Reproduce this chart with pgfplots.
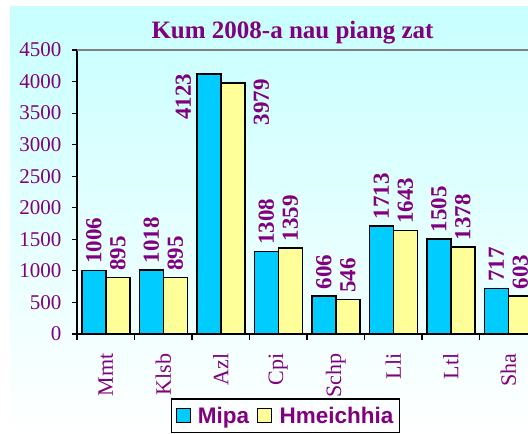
\documentclass[border=0pt]{standalone}
\usepackage{fontspec}
\setmainfont{Liberation Serif}
\newfontfamily\legendfont{Liberation Sans}
\usepackage{pgfplots}
\pgfplotsset{compat=1.18}
\definecolor{ttl}{HTML}{800080}
\definecolor{cbar}{HTML}{00CCFF}
\definecolor{ylbar}{HTML}{FFFF99}
\definecolor{bgtop}{HTML}{C8FFFF}
\begin{document}
\begin{tikzpicture}[x=1pt,y=1pt]
\path[use as bounding box] (0,0) rectangle (528,434);
\clip (0,0) rectangle (528,434);
\shade[top color=bgtop, bottom color=white] (10,0) rectangle (528,427);
\node[anchor=base, text=ttl, font=\bfseries\fontsize{25}{25}\selectfont] at (292.5,395) {Kum 2008-a nau piang zat};
\begin{axis}[
  at={(77pt,100pt)}, anchor=south west, scale only axis,
  width=460pt, height=284pt,
  xmin=-0.5, xmax=7.5, ymin=0, ymax=4500,
  clip=false,
  ybar=0pt, bar width=24pt,
  axis lines=left, axis line style={-, black, line width=1.5pt},
  /pgf/number format/1000 sep={},
  /pgf/number format/assume math mode=true,
  tick align=outside, major tick length=5pt, minor tick length=6pt,
  ytick={0,500,...,4500},
  y tick style={black, line width=1.2pt},
  yticklabel style={font=\fontsize{21}{21}\selectfont, text=ttl},
  yticklabel shift=7pt,
  xtick={0,...,7},
  xticklabels={Mmt,Klsb,Azl,Cpi,Schp,Lli,Ltl,Sha},
  major x tick style={draw=none},
  minor xtick={-0.5,0.5,...,7.5},
  minor x tick style={black, line width=1.2pt},
  xticklabel style={rotate=90, anchor=east, font=\fontsize{22}{22}\selectfont, text=ttl},
  xticklabel shift=11pt,
  point meta=explicit symbolic,
  nodes near coords,
  every node near coord/.append style={rotate=90, anchor=west, font=\bfseries\fontsize{23}{23}\selectfont, text=ttl, inner xsep=6pt},
  legend columns=2,
  legend image code/.code={\draw[#1, line width=1.2pt, draw=black] (0pt,-7pt) rectangle (14pt,7pt); \path (19pt,0pt);},
  legend style={at={(0.204,-0.2254)}, anchor=north west, draw=black, line width=1.5pt, fill=none,
    font=\legendfont\bfseries\fontsize{22.5}{22.5}\selectfont, text=ttl,
    /tikz/every even column/.append style={column sep=6pt}, inner xsep=4pt, inner ysep=6pt},
]
\addplot[fill=cbar, draw=black, line width=1.5pt] coordinates {(0,1006) [1006] (1,1018) [1018] (2,4123) [] (3,1308) [1308] (4,606) [606] (5,1713) [1713] (6,1505) [1505] (7,717) [717]};
\addplot[fill=ylbar, draw=black, line width=1.5pt] coordinates {(0,895) [895] (1,895) [895] (2,3979) [] (3,1359) [1359] (4,546) [546] (5,1643) [1643] (6,1378) [1378] (7,603) [603]};
\legend{Mipa,Hmeichhia}
\draw[gray, line width=1.5pt] (rel axis cs:0,1) -- (rel axis cs:1,1);
\node[rotate=90, anchor=east, inner sep=0pt, text=ttl, font=\bfseries\fontsize{23}{23}\selectfont] at ([xshift=-37.5pt,yshift=0pt]axis cs:2,4123) {4123};
\node[rotate=90, anchor=east, inner sep=0pt, text=ttl, font=\bfseries\fontsize{23}{23}\selectfont] at ([xshift=40.5pt,yshift=4pt]axis cs:2,3979) {3979};
\end{axis}
\end{tikzpicture}
\end{document}
